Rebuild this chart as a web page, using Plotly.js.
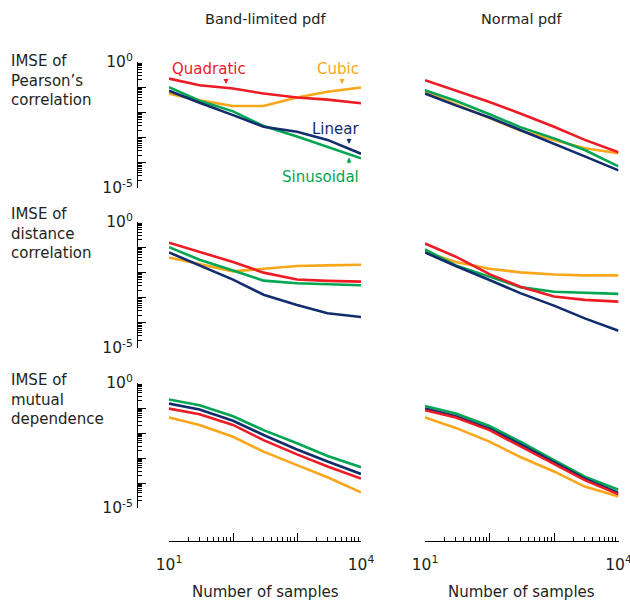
<!DOCTYPE html>
<html>
<head>
<meta charset="utf-8">
<script src="https://cdn.plot.ly/plotly-3.0.1.min.js"></script>
<style>
html, body { margin: 0; padding: 0; background: #ffffff; }
#chart { width: 630px; height: 604px; }
</style>
</head>
<body>
<div id="chart"></div>
<script>
// ---------- data ----------
const samples = [10, 30, 100, 300, 1000, 3000, 10000];
const seriesNames = ['Quadratic', 'Cubic', 'Linear', 'Sinusoidal'];
const columnTitles = ['Band-limited pdf', 'Normal pdf'];
const rowTitles = ['IMSE of<br>Pearson’s<br>correlation', 'IMSE of<br>distance<br>correlation', 'IMSE of<br>mutual<br>dependence'];
const xTitle = 'Number of samples';

// Row 1: Pearson's correlation, band-limited pdf
const pearsonBandQuadratic  = [0.22, 0.12, 0.089, 0.056, 0.039, 0.032, 0.023];
const pearsonBandCubic      = [0.056, 0.030, 0.018, 0.018, 0.039, 0.066, 0.098];
const pearsonBandLinear     = [0.072, 0.024, 0.0078, 0.0027, 0.0017, 0.00081, 0.00023];
const pearsonBandSinusoidal = [0.10, 0.029, 0.011, 0.0029, 0.0011, 0.00042, 0.00015];
// Row 1: Pearson's correlation, normal pdf
const pearsonNormQuadratic  = [0.19, 0.076, 0.026, 0.0091, 0.0027, 0.00081, 0.00026];
const pearsonNormCubic      = [0.066, 0.021, 0.0058, 0.0019, 0.00081, 0.00038, 0.00024];
const pearsonNormLinear     = [0.056, 0.019, 0.0063, 0.0020, 0.00060, 0.00018, 0.00005];
const pearsonNormSinusoidal = [0.076, 0.029, 0.0085, 0.0026, 0.00093, 0.00032, 0.000072];
// Row 2: distance correlation, band-limited pdf
const distBandQuadratic  = [0.15, 0.066, 0.026, 0.0098, 0.0052, 0.0046, 0.0043];
const distBandCubic      = [0.039, 0.021, 0.011, 0.014, 0.018, 0.019, 0.020];
const distBandLinear     = [0.062, 0.019, 0.0052, 0.0013, 0.00051, 0.00024, 0.00017];
const distBandSinusoidal = [0.10, 0.032, 0.012, 0.0047, 0.0037, 0.0034, 0.0031];
// Row 2: distance correlation, normal pdf
const distNormQuadratic  = [0.14, 0.042, 0.0085, 0.0027, 0.0011, 0.00081, 0.00069];
const distNormCubic      = [0.066, 0.026, 0.014, 0.010, 0.0083, 0.0076, 0.0076];
const distNormLinear     = [0.062, 0.018, 0.0050, 0.0015, 0.00048, 0.00015, 0.000048];
const distNormSinusoidal = [0.081, 0.019, 0.0068, 0.0026, 0.0017, 0.0015, 0.0014];
// Row 3: mutual dependence, band-limited pdf
const mutualBandQuadratic  = [0.095, 0.056, 0.021, 0.0052, 0.0014, 0.00046, 0.00015];
const mutualBandCubic      = [0.042, 0.021, 0.0071, 0.0018, 0.00052, 0.00017, 0.000042];
const mutualBandLinear     = [0.15, 0.087, 0.031, 0.0083, 0.0022, 0.00072, 0.00023];
const mutualBandSinusoidal = [0.22, 0.13, 0.047, 0.013, 0.0039, 0.0012, 0.00043];
// Row 3: mutual dependence, normal pdf
const mutualNormQuadratic  = [0.081, 0.042, 0.013, 0.0030, 0.00058, 0.00013, 0.000035];
const mutualNormCubic      = [0.042, 0.016, 0.0045, 0.0011, 0.00029, 0.000072, 0.000029];
const mutualNormLinear     = [0.095, 0.047, 0.015, 0.0036, 0.00068, 0.00015, 0.00004];
const mutualNormSinusoidal = [0.12, 0.060, 0.019, 0.0045, 0.00083, 0.00018, 0.000054];

const xTickVals = [10, 100, 1000, 10000];
const xTickText = ['10<sup>1</sup>', '', '', '10<sup>4</sup>'];
const yTickVals = [1e-5, 1e-4, 1e-3, 1e-2, 1e-1, 1];
const yTickText = ['10<sup>-5</sup>', '', '', '', '', '10<sup>0</sup>'];

// ---------- styling ----------
const W = 630, H = 604;
const FONT = 'DejaVu Sans';
const TEXT = '#231F20';
const colors = { Quadratic: '#ED1C24', Cubic: '#FAA61A', Linear: '#112D6E', Sinusoidal: '#00A651' };

const panels = [
  { key: '',  data: { Quadratic: pearsonBandQuadratic, Cubic: pearsonBandCubic, Linear: pearsonBandLinear, Sinusoidal: pearsonBandSinusoidal } },
  { key: '2', data: { Quadratic: pearsonNormQuadratic, Cubic: pearsonNormCubic, Linear: pearsonNormLinear, Sinusoidal: pearsonNormSinusoidal } },
  { key: '3', data: { Quadratic: distBandQuadratic, Cubic: distBandCubic, Linear: distBandLinear, Sinusoidal: distBandSinusoidal } },
  { key: '4', data: { Quadratic: distNormQuadratic, Cubic: distNormCubic, Linear: distNormLinear, Sinusoidal: distNormSinusoidal } },
  { key: '5', data: { Quadratic: mutualBandQuadratic, Cubic: mutualBandCubic, Linear: mutualBandLinear, Sinusoidal: mutualBandSinusoidal } },
  { key: '6', data: { Quadratic: mutualNormQuadratic, Cubic: mutualNormCubic, Linear: mutualNormLinear, Sinusoidal: mutualNormSinusoidal } }
];
const drawOrder = ['Cubic', 'Sinusoidal', 'Linear', 'Quadratic'];

const traces = [];
panels.forEach(p => {
  drawOrder.forEach(name => {
    traces.push({
      type: 'scatter', mode: 'lines',
      x: samples, y: p.data[name],
      xaxis: 'x' + p.key, yaxis: 'y' + p.key,
      name: name, showlegend: false,
      line: { color: colors[name], width: 2.6 },
      hoverinfo: 'skip'
    });
  });
});

// minor tick positions
const xMinor = [];
[10, 100, 1000].forEach(d => { for (let k = 2; k <= 9; k++) xMinor.push(k * d); });
const yMinor = [];
[1e-5, 1e-4, 1e-3, 1e-2, 1e-1].forEach(d => { for (let k = 2; k <= 9; k++) yMinor.push(k * d); });

const colDom = [[169 / W, 361 / W], [425 / W, 618.5 / W]];
const rowDom = [[1 - 188 / H, 1 - 62 / H], [1 - 348 / H, 1 - 222 / H], [1 - 508 / H, 1 - 383 / H]];

const layout = {
  width: W, height: H,
  margin: { l: 0, r: 0, t: 0, b: 0, pad: 0 },
  paper_bgcolor: '#ffffff', plot_bgcolor: 'rgba(0,0,0,0)',
  font: { family: FONT, color: TEXT, size: 15 },
  showlegend: false,
  annotations: []
};

panels.forEach((p, i) => {
  const row = Math.floor(i / 2), col = i % 2;
  const xa = {
    type: 'log', range: [1, 4], domain: colDom[col],
    showgrid: false, zeroline: false, fixedrange: true
  };
  if (row === 2) {
    Object.assign(xa, {
      anchor: 'free', position: 1 - 541 / H,
      showline: true, linecolor: '#000', linewidth: 1,
      ticks: 'inside', ticklen: 8, tickwidth: 1, tickcolor: '#000',
      tickmode: 'array', tickvals: xTickVals, ticktext: xTickText,
      tickfont: { family: FONT, size: 15.5, color: TEXT },
      ticklabelstandoff: 9, ticklabeloverflow: 'allow',
      minor: { tickmode: 'array', tickvals: xMinor, ticks: 'inside', ticklen: 4, tickwidth: 1, tickcolor: '#000', showgrid: false }
    });
  } else {
    Object.assign(xa, { visible: false, anchor: 'y' + p.key });
  }
  const ya = {
    type: 'log', range: [-5, 0], domain: rowDom[row],
    showgrid: false, zeroline: false, fixedrange: true
  };
  if (col === 0) {
    Object.assign(ya, {
      anchor: 'free', position: 137 / W,
      showline: true, linecolor: '#000', linewidth: 1,
      ticks: 'inside', ticklen: 8, tickwidth: 1, tickcolor: '#000',
      tickmode: 'array', tickvals: yTickVals, ticktext: yTickText,
      tickfont: { family: FONT, size: 15.5, color: TEXT },
      ticklabelstandoff: 1,
      minor: { tickmode: 'array', tickvals: yMinor, ticks: 'inside', ticklen: 4, tickwidth: 1, tickcolor: '#000', showgrid: false }
    });
  } else {
    Object.assign(ya, { visible: false, anchor: 'x' + p.key });
  }
  layout['xaxis' + p.key] = xa;
  layout['yaxis' + p.key] = ya;
});

function px(x) { return x / W; }
function py(y) { return 1 - y / H; }

// column titles
[265, 521.5].forEach((cx, c) => {
  layout.annotations.push({ text: columnTitles[c], xref: 'paper', yref: 'paper', x: px(cx), y: py(18.5), xanchor: 'center', yanchor: 'middle', showarrow: false, font: { family: FONT, size: 14.5, color: TEXT } });
  layout.annotations.push({ text: xTitle, xref: 'paper', yref: 'paper', x: px(cx), y: py(592), xanchor: 'center', yanchor: 'middle', showarrow: false, font: { family: FONT, size: 15, color: TEXT } });
});
// row titles
[80, 233, 399].forEach((cy, r) => {
  layout.annotations.push({ text: rowTitles[r], xref: 'paper', yref: 'paper', x: px(9), y: py(cy), xanchor: 'left', yanchor: 'middle', align: 'left', showarrow: false, font: { family: FONT, size: 15, color: TEXT } });
});
// series labels (top-left panel)
const labels = [
  { name: 'Quadratic', x: 170, y: 68.5, anchor: 'left', ax: 226, tip: 84, tail: 77 },
  { name: 'Cubic', x: 361, y: 68.5, anchor: 'right', ax: 342, tip: 84, tail: 77 },
  { name: 'Linear', x: 361, y: 129, anchor: 'right', ax: 349, tip: 144, tail: 137 },
  { name: 'Sinusoidal', x: 361, y: 177, anchor: 'right', ax: 349, tip: 157.5, tail: 165 }
];
labels.forEach(l => {
  layout.annotations.push({ text: l.name, xref: 'paper', yref: 'paper', x: px(l.x), y: py(l.y), xanchor: l.anchor, yanchor: 'middle', showarrow: false, font: { family: FONT, size: 15, color: colors[l.name] } });
  layout.annotations.push({ text: '', xref: 'paper', yref: 'paper', x: px(l.ax), y: py(l.tip), showarrow: true, ax: 0, ay: l.tail - l.tip, arrowhead: 2, arrowsize: 1, arrowwidth: 1, arrowcolor: colors[l.name], standoff: 0, startstandoff: 0 });
});

Plotly.newPlot('chart', traces, layout, { staticPlot: true, displayModeBar: false });
</script>
</body>
</html>
